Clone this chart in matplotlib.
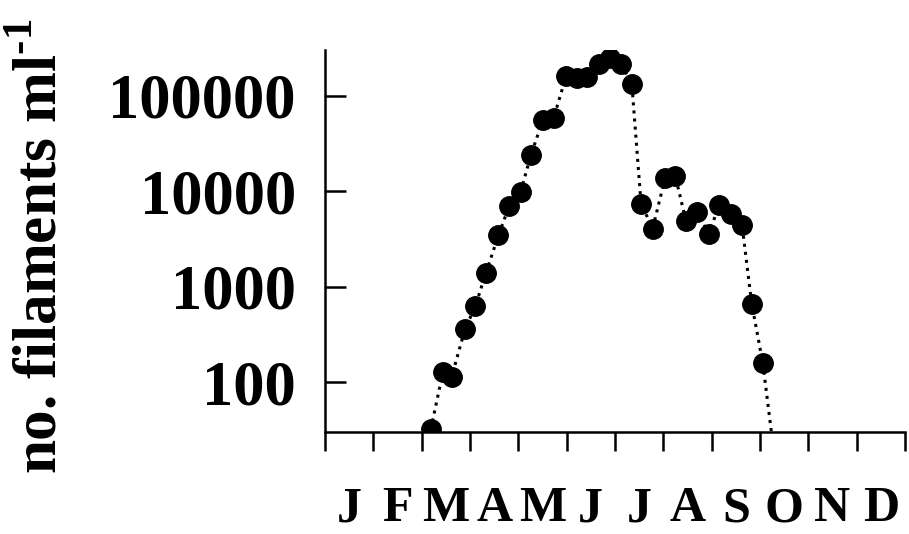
import matplotlib
matplotlib.use('Agg')
import matplotlib.pyplot as plt
from matplotlib.ticker import LogLocator, NullFormatter

# serif bold everywhere, like the printed figure
plt.rcParams['font.family'] = 'Liberation Serif'
plt.rcParams['font.weight'] = 'bold'
plt.rcParams['mathtext.fontset'] = 'custom'
plt.rcParams['mathtext.rm'] = 'Liberation Serif:bold'
plt.rcParams['mathtext.bf'] = 'Liberation Serif:bold'

month_labels = ['J', 'F', 'M', 'A', 'M', 'J', 'J', 'A', 'S', 'O', 'N', 'D']

# sampling time (months since 1 Jan) and filament counts per ml
sample_month = [2.19, 2.44, 2.62, 2.90, 3.11, 3.33, 3.59, 3.81, 4.05, 4.26,
                4.51, 4.73, 4.99, 5.21, 5.42, 5.66, 5.89, 6.12, 6.35, 6.54,
                6.78, 7.04, 7.25, 7.47, 7.70, 7.94, 8.16, 8.40, 8.63, 8.83,
                9.06]
filaments = [32, 127, 113, 362, 621, 1390, 3450, 6960, 9840, 23900,
             55600, 57900, 161000, 152000, 158000, 213000, 247000, 215000, 132000, 7430,
             4060, 13900, 14400, 4870, 6070, 3600, 7130, 5740, 4400, 663,
             158]

# dotted line runs on below the axis after the last sample
tail_month = [9.06, 9.28]
tail_count = [158, 20]

y_ticks = [100, 1000, 10000, 100000]
y_ticklabels = ['100', '1000', '10000', '100000']


fig = plt.figure(figsize=(9.09, 5.34), dpi=100)
ax = fig.add_axes([0.3575, 0.191, 0.638, 0.715])

ax.plot(sample_month + tail_month[1:], filaments + tail_count[1:],
        ls=':', color='black', lw=2.2)
ax.plot(sample_month, filaments, 'o', color='black', ms=14, ls='none')

ax.set_yscale('log')
ax.set_ylim(30, 300000)
ax.set_xlim(0, 12)

ax.spines['top'].set_visible(False)
ax.spines['right'].set_visible(False)
ax.spines['left'].set_linewidth(1.8)
ax.spines['bottom'].set_linewidth(1.8)

# y axis: ticks pointing inwards
ax.set_yticks(y_ticks)
ax.set_yticklabels(y_ticklabels)
ax.yaxis.set_minor_locator(LogLocator(base=10, subs=range(2, 10)))
ax.yaxis.set_minor_formatter(NullFormatter())
ax.tick_params(axis='y', which='major', direction='in', length=15, width=1.8,
               labelsize=45, pad=21)
ax.tick_params(axis='y', which='minor', direction='in', length=7, width=1.5)

# x axis: month boundaries as ticks, month letters centred between them
ax.set_xticks(range(13))
ax.set_xticklabels([''] * 13)
ax.set_xticks([i + 0.5 for i in range(12)], minor=True)
ax.set_xticklabels(month_labels, minor=True)
ax.tick_params(axis='x', which='major', direction='out', length=13.7, width=1.8)
ax.tick_params(axis='x', which='minor', length=0, labelsize=36, pad=39)

fig.text(0.046, 0.538, r'no. filaments ml$^{\text{-}1}$', rotation=90,
         ha='center', va='center', fontsize=44, fontweight='bold')

fig.savefig('out.png', dpi=100)
